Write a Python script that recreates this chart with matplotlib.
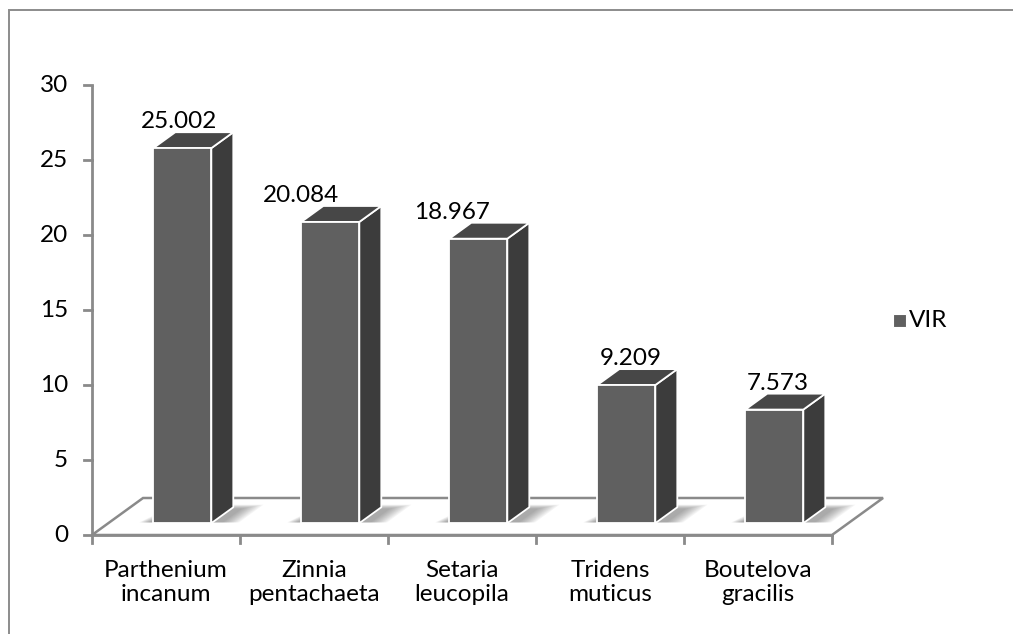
import matplotlib.pyplot as plt
from matplotlib.patches import Polygon, Rectangle

# data
especies = ["Parthenium\nincanum", "Zinnia\npentachaeta", "Setaria\nleucopila",
            "Tridens\nmuticus", "Boutelova\ngracilis"]
vir = [25.002, 20.084, 18.967, 9.209, 7.573]
etiquetas = ["25.002", "20.084", "18.967", "9.209", "7.573"]
yticks = [0, 5, 10, 15, 20, 25, 30]

# corrimiento horizontal de cada etiqueta (en pixeles), como en el original
desplaz_etiq = [-3, -29, -26, 4, 3]

# oblique 3d look: depth moves right (category units) and up (value units)
prof_x = 0.345
prof_y = 2.467
z_frente = 0.32
z_fondo = 0.75
ancho = 0.392
px_cat = 148.0

c_frente = "#606060"
c_lado = "#3c3c3c"
c_tapa = "#474747"
c_eje = "#8a8a8a"
fs = 17.5


def proy(x, v, z):
    """Proyecta un punto (categoria, valor, profundidad) al plano."""
    return (x + z * prof_x, v + z * prof_y)


plt.rcParams['font.family'] = ['Lato', 'DejaVu Sans']
fig = plt.figure(figsize=(10.13, 6.34), dpi=100)
ax = fig.add_axes([0, 0, 1, 1])
ax.set_xlim(-1.1216, 5.7230)
ax.set_ylim(-6.6, 35.667)
ax.axis("off")

# borde exterior
fig.add_artist(Rectangle((9 / 1013, -0.2), 1.5, 1.2 - 10 / 634, transform=fig.transFigure,
                         fill=False, ec="#8c8c8c", lw=1.4))

n = len(vir)

# piso
piso = [proy(-0.5, 0, 0), proy(n - 0.5, 0, 0), proy(n - 0.5, 0, 1), proy(-0.5, 0, 1)]
ax.add_patch(Polygon(piso, closed=True, fc="white", ec=c_eje, lw=1.8, zorder=1))

# sombras y barras
for i, v in enumerate(vir):
    x0 = i - ancho / 2
    x1 = i + ancho / 2

    # sombra difusa en la base (capas superpuestas)
    capas = 10
    for k in range(capas):
        e = 0.012 * (capas - k)
        sombra = [proy(x0 - 0.03 - e * 0.6, 0, z_frente + 0.02),
                  proy(x1 + 0.06 + e, 0, z_frente + 0.02),
                  proy(x1 + 0.06 + e, 0, z_fondo - 0.05 + e),
                  proy(x0 + 0.05 - e * 0.6, 0, z_fondo - 0.05 + e)]
        ax.add_patch(Polygon(sombra, closed=True, fc="#454545", ec="none",
                             alpha=0.055, zorder=2))

    frente = [proy(x0, 0, z_frente), proy(x1, 0, z_frente), proy(x1, v, z_frente), proy(x0, v, z_frente)]
    lado = [proy(x1, 0, z_frente), proy(x1, 0, z_fondo), proy(x1, v, z_fondo), proy(x1, v, z_frente)]
    tapa = [proy(x0, v, z_frente), proy(x1, v, z_frente), proy(x1, v, z_fondo), proy(x0, v, z_fondo)]
    for cara, color in [(lado, c_lado), (tapa, c_tapa), (frente, c_frente)]:
        ax.add_patch(Polygon(cara, closed=True, fc=color, ec="white", lw=1.3,
                             joinstyle="round", zorder=3))

    cy = proy(x1, v, z_fondo)[1]
    cx = proy(i, v, z_frente)[0] + desplaz_etiq[i] / px_cat
    ax.text(cx, cy + 0.27, etiquetas[i], ha="center", va="baseline", fontsize=fs, zorder=5)

# eje y
ax.plot([-0.5, -0.5], [0, 30], color=c_eje, lw=2, zorder=4, solid_capstyle="butt")
for t in yticks:
    ax.plot([-0.554, -0.5], [t, t], color=c_eje, lw=2, zorder=4)
    ax.text(-0.662, t, str(t), ha="right", va="center", fontsize=fs)

# eje x (borde frontal del piso)
ax.plot([-0.5, n - 0.5], [0, 0], color=c_eje, lw=2, zorder=4)
for i in range(n + 1):
    ax.plot([i - 0.5, i - 0.5], [0, -0.55], color=c_eje, lw=2, zorder=4)
for i, nombre in enumerate(especies):
    ax.text(i, -3.17, nombre, ha="center", va="center", fontsize=fs, linespacing=1.22)

# leyenda
ax.add_patch(Rectangle((4.912, 13.85), 0.088, 0.87, fc=c_frente, ec="white", lw=0.8, zorder=5))
ax.text(5.02, 14.3, "VIR", ha="left", va="center", fontsize=fs)

fig.savefig("out.png", dpi=100)
